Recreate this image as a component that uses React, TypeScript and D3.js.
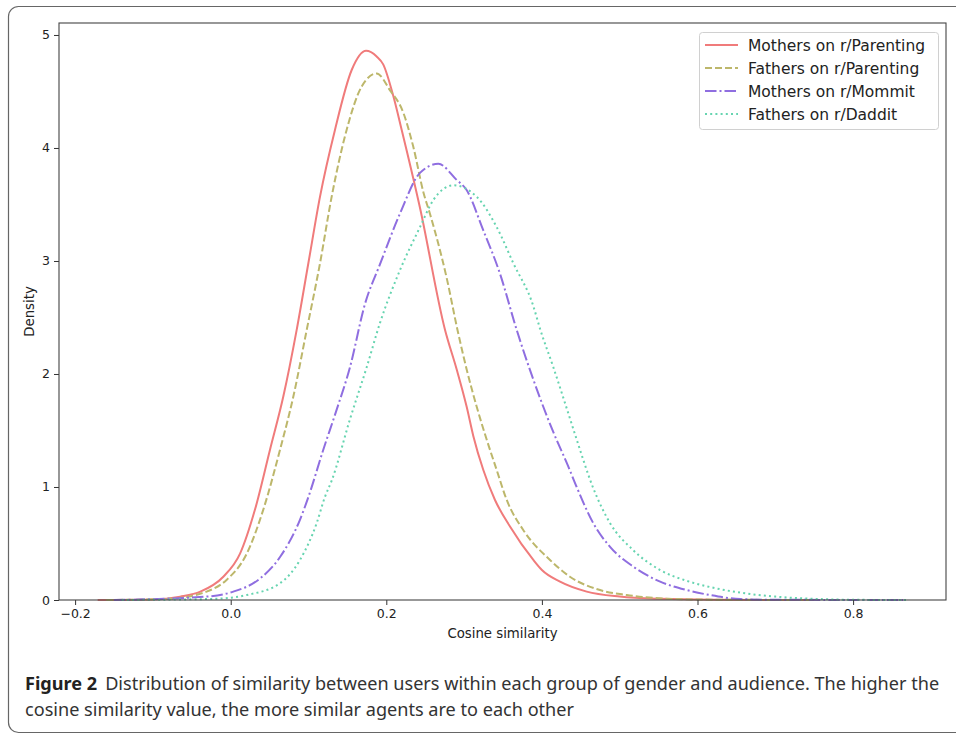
import React, { useEffect, useRef } from "react";
import * as d3 from "d3";

// Density curves: [cosine similarity, density]
const mothersParenting: [number, number][] = [
  [-0.171, 0], [-0.1, 0.005], [-0.065, 0.03], [-0.039, 0.074], [-0.0095, 0.206],
  [0.012, 0.41], [0.0312, 0.8], [0.0505, 1.33], [0.0676, 1.8], [0.0848, 2.39],
  [0.0998, 2.98], [0.1148, 3.57], [0.134, 4.16], [0.1555, 4.69], [0.174, 4.86],
  [0.1876, 4.81], [0.196, 4.74], [0.209, 4.46], [0.2198, 4.16], [0.243, 3.48],
  [0.2755, 2.39], [0.2905, 2.04], [0.3033, 1.71], [0.3119, 1.45], [0.3247, 1.15],
  [0.3397, 0.885], [0.359, 0.65], [0.389, 0.354], [0.4, 0.265], [0.4233, 0.162],
  [0.4576, 0.074], [0.5, 0.03], [0.552, 0.01], [0.62, 0.002], [0.75, 0],
];

const fathersParenting: [number, number][] = [
  [-0.16, 0], [-0.08, 0.01], [-0.031, 0.074], [-0.005, 0.18], [0.0206, 0.41],
  [0.0419, 0.8], [0.0634, 1.33], [0.0805, 1.8], [0.0977, 2.39], [0.1148, 2.98],
  [0.1298, 3.57], [0.149, 4.16], [0.168, 4.54], [0.1876, 4.66], [0.2048, 4.51],
  [0.222, 4.31], [0.2347, 4.01], [0.248, 3.6], [0.256, 3.42], [0.2776, 2.85],
  [0.2915, 2.39], [0.3033, 2.04], [0.3162, 1.71], [0.329, 1.42], [0.3419, 1.15],
  [0.3548, 0.885], [0.376, 0.62], [0.4104, 0.354], [0.436, 0.206], [0.4747, 0.088],
  [0.509, 0.044], [0.56, 0.012], [0.62, 0.003], [0.75, 0],
];

const mothersMommit: [number, number][] = [
  [-0.15, 0], [-0.031, 0.03], [0.0034, 0.074], [0.0377, 0.19], [0.0634, 0.38],
  [0.089, 0.71], [0.0998, 0.91], [0.119, 1.33], [0.136, 1.68], [0.1533, 2.06],
  [0.1726, 2.62], [0.1918, 2.97], [0.2176, 3.42], [0.2433, 3.78],
  [0.2669, 3.86], [0.29, 3.72], [0.303, 3.63], [0.3247, 3.27], [0.346, 2.89],
  [0.3676, 2.39], [0.389, 1.95], [0.4126, 1.52], [0.434, 1.18], [0.4447, 1.0],
  [0.466, 0.68], [0.4876, 0.47], [0.5175, 0.295], [0.552, 0.162], [0.586, 0.088],
  [0.616, 0.044], [0.655, 0.008], [0.7, 0.002], [0.868, 0],
];

const fathersDaddit: [number, number][] = [
  [-0.14, 0], [-0.022, 0.01], [0.0206, 0.044], [0.0634, 0.148], [0.089, 0.354],
  [0.1105, 0.68], [0.121, 0.91], [0.13, 1.06], [0.1533, 1.6], [0.1748, 2.06],
  [0.1918, 2.45], [0.2176, 2.92], [0.2433, 3.3], [0.2605, 3.54], [0.2862, 3.67],
  [0.316, 3.57], [0.3419, 3.3], [0.3633, 2.98], [0.389, 2.6], [0.3976, 2.4],
  [0.4147, 2.06], [0.434, 1.65], [0.4447, 1.42], [0.466, 0.99], [0.4876, 0.68],
  [0.5175, 0.44], [0.552, 0.265], [0.586, 0.17], [0.616, 0.115], [0.655, 0.065],
  [0.7, 0.03], [0.75, 0.01], [0.8, 0.002], [0.868, 0],
];

const seriesNames = [
  "Mothers on r/Parenting",
  "Fathers on r/Parenting",
  "Mothers on r/Mommit",
  "Fathers on r/Daddit",
];
const seriesColors = ["#f07b7b", "#bdb76b", "#8f6ee0", "#66d4b0"];
const seriesDash = ["none", "7,3", "11.5,3,2,3", "2,3.2"];

const xTicks = [-0.2, 0.0, 0.2, 0.4, 0.6, 0.8];
const yTicks = [0, 1, 2, 3, 4, 5];

const captionBold = "Figure 2";
const captionLine1 = "Distribution of similarity between users within each group of gender and audience. The higher the";
const captionLine2 = "cosine similarity value, the more similar agents are to each other";

const W = 956;
const H = 734;
const plotFont = "'DejaVu Sans', sans-serif";

const App = () => {
  const svgRef = useRef<SVGSVGElement>(null);

  useEffect(() => {
    const svg = d3.select(svgRef.current);
    svg.selectAll("*").remove();

    const margin = { top: 23, right: 10, bottom: 134, left: 59 };
    const innerWidth = W - margin.left - margin.right;
    const innerHeight = H - margin.top - margin.bottom;

    // outer figure frame
    svg.append("rect")
      .attr("x", 8.5).attr("y", 6.5)
      .attr("width", 960).attr("height", 726)
      .attr("rx", 10)
      .attr("fill", "#fff")
      .attr("stroke", "#666")
      .attr("stroke-width", 1.2);

    const g = svg.append("g")
      .attr("transform", `translate(${margin.left}, ${margin.top})`);

    const xScale = d3.scaleLinear().domain([-0.2207, 0.9194]).range([0, innerWidth]);
    const yScale = d3.scaleLinear().domain([0, 5.106]).range([innerHeight, 0]);

    const line = d3.line<[number, number]>()
      .x((d) => xScale(d[0]))
      .y((d) => yScale(d[1]))
      .curve(d3.curveMonotoneX);

    const allSeries = [mothersParenting, fathersParenting, mothersMommit, fathersDaddit];
    allSeries.forEach((s, i) => {
      g.append("path")
        .datum(s)
        .attr("fill", "none")
        .attr("stroke", seriesColors[i])
        .attr("stroke-width", 2)
        .attr("stroke-dasharray", seriesDash[i])
        .attr("d", line);
    });

    // axes
    const xAxis = g.append("g")
      .attr("transform", `translate(0, ${innerHeight})`)
      .call(d3.axisBottom(xScale).tickValues(xTicks).tickSize(5).tickPadding(4)
        .tickFormat((d) => d3.format(".1f")(d as number).replace("-", "\u2212")));
    const yAxis = g.append("g")
      .call(d3.axisLeft(yScale).tickValues(yTicks).tickSize(5).tickPadding(4)
        .tickFormat(d3.format("d")));
    [xAxis, yAxis].forEach((a) => {
      a.attr("font-family", plotFont).attr("font-size", 12.5);
      a.select(".domain").remove();
      a.selectAll("line").attr("stroke", "#333").attr("stroke-width", 1);
      a.selectAll("text").attr("fill", "#222");
    });

    // frame of the axes
    g.append("rect")
      .attr("width", innerWidth).attr("height", innerHeight)
      .attr("fill", "none")
      .attr("stroke", "#444")
      .attr("stroke-width", 1.1);

    g.append("text")
      .attr("x", innerWidth / 2)
      .attr("y", innerHeight + 38)
      .attr("text-anchor", "middle")
      .attr("font-family", plotFont)
      .attr("font-size", 13.3)
      .attr("fill", "#222")
      .text("Cosine similarity");

    g.append("text")
      .attr("transform", "rotate(-90)")
      .attr("x", -innerHeight / 2)
      .attr("y", -25)
      .attr("text-anchor", "middle")
      .attr("font-family", plotFont)
      .attr("font-size", 13.3)
      .attr("fill", "#222")
      .text("Density");

    // legend
    const legend = svg.append("g").attr("transform", "translate(699, 32)");
    legend.append("rect")
      .attr("x", 0.5).attr("y", 0.5)
      .attr("width", 239).attr("height", 97)
      .attr("rx", 3)
      .attr("fill", "#fff")
      .attr("stroke", "#d0d0d0");
    seriesNames.forEach((name, i) => {
      const cy = 13 + i * 23;
      legend.append("line")
        .attr("x1", 6).attr("x2", 39)
        .attr("y1", cy).attr("y2", cy)
        .attr("stroke", seriesColors[i])
        .attr("stroke-width", 2)
        .attr("stroke-dasharray", seriesDash[i]);
      legend.append("text")
        .attr("x", 49).attr("y", cy + 5.5)
        .attr("font-family", plotFont)
        .attr("font-size", 15.5)
        .attr("fill", "#222")
        .text(name);
    });

    // caption
    const cap = svg.append("g")
      .attr("font-family", "'Noto Sans', sans-serif")
      .attr("font-size", 18.1)
      .attr("fill", "#333");
    const t1 = cap.append("text").attr("x", 25).attr("y", 690);
    t1.append("tspan").attr("font-weight", "bold").attr("fill", "#222").text(captionBold);
    t1.append("tspan").attr("dx", 8).text(captionLine1);
    cap.append("text").attr("x", 25).attr("y", 716).text(captionLine2);
  }, []);

  return (
    <svg
      ref={svgRef}
      width={W}
      height={H}
      style={{ position: "absolute", left: 0, top: 0, background: "#fff" }}
    />
  );
};

export default App;
